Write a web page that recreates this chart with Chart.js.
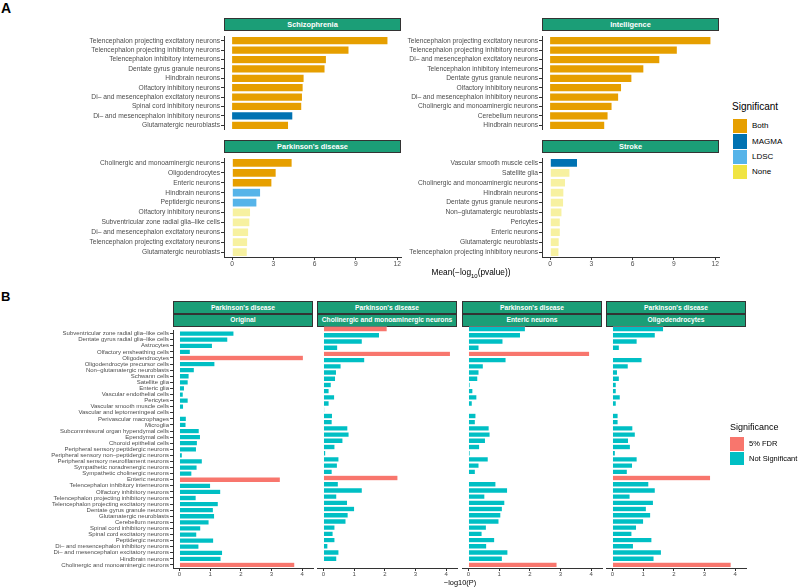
<!DOCTYPE html>
<html>
<head>
<meta charset="utf-8">
<script src="https://cdn.jsdelivr.net/npm/chart.js@4"></script>
<style>
body { margin: 0; background: #fff; font-family: "Liberation Sans", Arial, sans-serif; }
#fig { position: relative; width: 800px; height: 587px; overflow: hidden; }
.box { position: absolute; }
.strip { position: absolute; background: #1B9E77; border: 1px solid #333; box-sizing: border-box;
         color: #fff; font-weight: bold; text-align: center; white-space: nowrap; }
.lab { position: absolute; white-space: nowrap; color: #000; }
.sw { position: absolute; }
</style>
</head>
<body>
<div id="fig"></div>
<script>
// ---- panel A: top 10 cell types per trait, mean -log10(p)
const sczCells = ['Telencephalon projecting excitatory neurons', 'Telencephalon projecting inhibitory neurons',
  'Telencephalon inhibitory interneurons', 'Dentate gyrus granule neurons', 'Hindbrain neurons',
  'Olfactory inhibitory neurons', 'Di– and mesencephalon excitatory neurons', 'Spinal cord inhibitory neurons',
  'Di– and mesencephalon inhibitory neurons', 'Glutamatergic neuroblasts'];
const sczMean = [11.33, 8.50, 6.86, 6.76, 5.24, 5.17, 5.12, 5.07, 4.42, 4.11];
const sczSig = ['Both', 'Both', 'Both', 'Both', 'Both', 'Both', 'Both', 'Both', 'MAGMA', 'Both'];

const iqCells = ['Telencephalon projecting excitatory neurons', 'Telencephalon projecting inhibitory neurons',
  'Di– and mesencephalon excitatory neurons', 'Telencephalon inhibitory interneurons', 'Dentate gyrus granule neurons',
  'Olfactory inhibitory neurons', 'Di– and mesencephalon inhibitory neurons', 'Cholinergic and monoaminergic neurons',
  'Cerebellum neurons', 'Hindbrain neurons'];
const iqMean = [11.69, 9.25, 7.98, 6.82, 5.95, 5.20, 4.99, 4.51, 4.22, 3.98];
const iqSig = ['Both', 'Both', 'Both', 'Both', 'Both', 'Both', 'Both', 'Both', 'Both', 'Both'];

const pdCells = ['Cholinergic and monoaminergic neurons', 'Oligodendrocytes', 'Enteric neurons', 'Hindbrain neurons',
  'Peptidergic neurons', 'Olfactory inhibitory neurons', 'Subventricular zone radial glia–like cells',
  'Di– and mesencephalon excitatory neurons', 'Telencephalon projecting excitatory neurons', 'Glutamatergic neuroblasts'];
const pdMean = [4.37, 3.21, 2.90, 2.08, 1.81, 1.35, 1.30, 1.21, 1.14, 1.11];
const pdSig = ['Both', 'Both', 'Both', 'LDSC', 'LDSC', 'None', 'None', 'None', 'None', 'None'];

const strokeCells = ['Vascular smooth muscle cells', 'Satellite glia', 'Cholinergic and monoaminergic neurons',
  'Hindbrain neurons', 'Dentate gyrus granule neurons', 'Non–glutamatergic neuroblasts', 'Pericytes',
  'Enteric neurons', 'Glutamatergic neuroblasts', 'Telencephalon projecting inhibitory neurons'];
const strokeMean = [2.00, 1.45, 1.13, 1.01, 0.99, 0.87, 0.75, 0.75, 0.67, 0.65];
const strokeSig = ['MAGMA', 'None', 'None', 'None', 'None', 'None', 'None', 'None', 'None', 'None'];

const sigLevels = ['Both', 'MAGMA', 'LDSC', 'None'];
const sigColors = ['#E69F00', '#0072B2', '#56B4E9', '#F0E442'];

// ---- panel B: Parkinson's disease, original and conditioned analyses, -log10(P)
const cellTypes = ['Subventricular zone radial glia–like cells', 'Dentate gyrus radial glia–like cells', 'Astrocytes',
  'Olfactory ensheathing cells', 'Oligodendrocytes', 'Oligodendrocyte precursor cells', 'Non–glutamatergic neuroblasts',
  'Schwann cells', 'Satellite glia', 'Enteric glia', 'Vascular endothelial cells', 'Pericytes',
  'Vascular smooth muscle cells', 'Vascular and leptomeningeal cells', 'Perivascular macrophages', 'Microglia',
  'Subcommissural organ hypendymal cells', 'Ependymal cells', 'Choroid epithelial cells',
  'Peripheral sensory peptidergic neurons', 'Peripheral sensory non–peptidergic neurons',
  'Peripheral sensory neurofilament neurons', 'Sympathetic noradrenergic neurons', 'Sympathetic cholinergic neurons',
  'Enteric neurons', 'Telencephalon inhibitory interneurons', 'Olfactory inhibitory neurons',
  'Telencephalon projecting inhibitory neurons', 'Telencephalon projecting excitatory neurons',
  'Dentate gyrus granule neurons', 'Glutamatergic neuroblasts', 'Cerebellum neurons', 'Spinal cord inhibitory neurons',
  'Spinal cord excitatory neurons', 'Peptidergic neurons', 'Di– and mesencephalon inhibitory neurons',
  'Di– and mesencephalon excitatory neurons', 'Hindbrain neurons', 'Cholinergic and monoaminergic neurons'];

const pOriginal = [1.78, 1.58, 1.08, 0.36, 4.04, 1.16, 0.49, 0.32, 0.29, 0.17, 0.13, 0.29, 0.14, 0.03, 0.23, 0.22,
  0.65, 0.69, 0.59, 0.56, 0.10, 0.75, 0.58, 0.41, 3.29, 1.02, 1.35, 0.55, 1.27, 1.11, 1.15, 0.97, 0.70, 0.57,
  1.12, 0.64, 1.41, 1.36, 3.76];
const pCholinergic = [2.08, 1.83, 1.27, 0.47, 4.14, 1.35, 0.58, 0.43, 0.40, 0.26, 0.19, 0.37, 0.19, 0.04, 0.30, 0.29,
  0.80, 0.84, 0.64, 0.38, 0.08, 0.51, 0.46, 0.29, 2.43, 0.49, 1.27, 0.44, 0.79, 1.02, 0.81, 0.74, 0.38, 0.32,
  0.38, 0.15, 0.51, 0.44, null];
const pEnteric = [1.86, 1.70, 1.13, 0.35, 3.95, 1.23, 0.49, 0.35, 0.31, 0.06, 0.15, 0.28, 0.13, 0.02, 0.25, 0.23,
  0.68, 0.71, 0.56, 0.37, 0.06, 0.65, 0.35, 0.23, null, 0.90, 1.28, 0.54, 1.19, 1.11, 1.06, 1.00, 0.59, 0.45,
  0.86, 0.60, 1.29, 1.11, 2.89];
const pOligo = [1.67, 1.40, 0.81, 0.23, null, 0.97, 0.52, 0.17, 0.23, 0.13, 0.13, 0.26, 0.13, 0.02, 0.19, 0.19,
  0.67, 0.75, 0.53, 0.59, 0.10, 0.81, 0.66, 0.49, 3.20, 1.19, 1.40, 0.58, 1.34, 1.11, 1.25, 1.02, 0.79, 0.64,
  1.29, 0.69, 1.60, 1.36, 3.87];

const fdrOriginal = ['Oligodendrocytes', 'Enteric neurons', 'Cholinergic and monoaminergic neurons'];
const fdrCholinergic = ['Subventricular zone radial glia–like cells', 'Oligodendrocytes', 'Enteric neurons'];
const fdrEnteric = ['Oligodendrocytes', 'Cholinergic and monoaminergic neurons'];
const fdrOligo = ['Enteric neurons', 'Cholinergic and monoaminergic neurons'];

const fdrColor = '#F8766D';
const nsColor = '#00BFC4';

Chart.defaults.font.family = "'Liberation Sans', Arial, sans-serif";

const fig = document.getElementById('fig');

function addDiv(cls, left, top, w, h, html, css) {
  const d = document.createElement('div');
  d.className = cls;
  d.style.left = left + 'px';
  d.style.top = top + 'px';
  if (w != null) d.style.width = w + 'px';
  if (h != null) d.style.height = h + 'px';
  if (html != null) d.innerHTML = html;
  Object.assign(d.style, css || {});
  fig.appendChild(d);
  return d;
}

function strip(left, top, w, h, text, size) {
  addDiv('strip', left, top, w, h, text, { fontSize: size + 'px', lineHeight: (h - 2) + 'px' });
}

function barChart(o) {
  const wrap = addDiv('box', o.left, o.top, o.width, o.height);
  const canvas = document.createElement('canvas');
  canvas.width = o.width;
  canvas.height = o.height;
  wrap.appendChild(canvas);
  new Chart(canvas, {
    type: 'bar',
    data: {
      labels: o.labels,
      datasets: [{
        data: o.values,
        backgroundColor: o.colors,
        borderColor: 'rgba(255,255,255,0.55)',
        borderWidth: 0.6,
        barPercentage: 0.9,
        categoryPercentage: 1
      }]
    },
    options: {
      indexAxis: 'y',
      responsive: false,
      animation: false,
      layout: { padding: { top: 0, bottom: 0, left: 0, right: o.padRight || 0 } },
      plugins: { legend: { display: false }, tooltip: { enabled: false } },
      scales: {
        x: {
          type: 'linear',
          min: o.xmin,
          max: o.xmax,
          display: o.showX,
          ticks: { stepSize: o.step, includeBounds: false, color: '#4D4D4D', font: { size: o.tickSize }, padding: 0, maxRotation: 0 },
          grid: { drawOnChartArea: false, tickLength: 3, color: '#333' },
          border: { color: '#333', width: 1 },
          afterFit: s => { s.height = o.xh; }
        },
        y: {
          display: o.showY,
          ticks: { autoSkip: false, color: '#4D4D4D', font: { size: o.labelSize }, padding: 1 },
          grid: { offset: false, drawOnChartArea: false, tickLength: 3, color: '#333' },
          border: { color: '#333', width: 1 },
          afterFit: s => { s.width = o.yw; }
        }
      }
    }
  });
}

// ---------------- panel A ----------------
addDiv('lab', 1, 0, null, null, 'A', { fontSize: '14px', fontWeight: 'bold' });

const aX = { xmin: -0.585, xmax: 12.27, step: 3, tickSize: 6.7, labelSize: 6.7 };
const sigFill = sig => sig.map(s => s === 'None' ? 'rgba(240,228,66,0.5)' : sigColors[sigLevels.indexOf(s)]);

strip(224, 18, 177, 13, 'Schizophrenia', 7.4);
strip(542, 18, 177, 13, 'Intelligence', 7.4);
strip(224, 140, 177, 13, "Parkinson's disease", 7.4);
strip(542, 140, 177, 13, 'Stroke', 7.4);

barChart(Object.assign({ left: 0, top: 31, width: 401, height: 104, yw: 224, xh: 0, showX: false, showY: true,
  labels: sczCells, values: sczMean, colors: sigFill(sczSig) }, aX));
barChart(Object.assign({ left: 401, top: 31, width: 318, height: 104, yw: 141, xh: 0, showX: false, showY: true,
  labels: iqCells, values: iqMean, colors: sigFill(iqSig) }, aX));
barChart(Object.assign({ left: 0, top: 153, width: 407, height: 118, yw: 224, xh: 14, padRight: 6, showX: true, showY: true,
  labels: pdCells, values: pdMean, colors: sigFill(pdSig) }, aX));
barChart(Object.assign({ left: 401, top: 153, width: 324, height: 118, yw: 141, xh: 14, padRight: 6, showX: true, showY: true,
  labels: strokeCells, values: strokeMean, colors: sigFill(strokeSig) }, aX));

addDiv('lab', 371, 267, 200, null, 'Mean(−log<sub style="font-size:6px">10</sub>(pvalue))',
  { fontSize: '8.3px', textAlign: 'center', lineHeight: '10px' });

// legend A
addDiv('lab', 732, 101, null, null, 'Significant', { fontSize: '10px', lineHeight: '12px' });
sigLevels.forEach((s, i) => {
  const y = 119 + i * 15.3;
  addDiv('sw', 733, y, 14, 14.4, null, { background: sigColors[i] });
  addDiv('lab', 752, y + 2.4, null, null, s, { fontSize: '8px', lineHeight: '10px' });
});

// ---------------- panel B ----------------
addDiv('lab', 1, 289, null, null, 'B', { fontSize: '13px', fontWeight: 'bold' });

const bX = { xmin: -0.207, xmax: 4.35, step: 1, tickSize: 6, labelSize: 6 };
const fdrFill = list => cellTypes.map(c => list.includes(c) ? fdrColor : nsColor);

const facets = [
  { left: 173, name: 'Original', values: pOriginal, fdr: fdrOriginal },
  { left: 317, name: 'Cholinergic and monoaminergic neurons', values: pCholinergic, fdr: fdrCholinergic },
  { left: 462, name: 'Enteric neurons', values: pEnteric, fdr: fdrEnteric },
  { left: 606, name: 'Oligodendrocytes', values: pOligo, fdr: fdrOligo }
];

facets.forEach((f, i) => {
  strip(f.left, 301, 140, 13, "Parkinson's disease", 6.7);
  strip(f.left, 314, 140, 12.5, f.name, 6.7);
  const first = i === 0;
  barChart(Object.assign({
    left: first ? 0 : f.left, top: 326, width: (first ? f.left : 0) + 144, height: 254,
    yw: first ? f.left : 0, xh: 12, padRight: 4, showX: true, showY: first,
    labels: cellTypes, values: f.values, colors: fdrFill(f.fdr)
  }, bX));
});

addDiv('lab', 360, 578, 200, null, '−log10(P)', { fontSize: '7.4px', textAlign: 'center', lineHeight: '10px' });

// legend B
addDiv('lab', 730, 422, null, null, 'Significance', { fontSize: '9px', lineHeight: '11px' });
[['5% FDR', fdrColor], ['Not Significant', nsColor]].forEach((l, i) => {
  const y = 437.3 + i * 14.7;
  addDiv('sw', 730, y, 14, 13.4, null, { background: l[1] });
  addDiv('lab', 749, y + 2, null, null, l[0], { fontSize: '7.5px', lineHeight: '9px' });
});
</script>
</body>
</html>
